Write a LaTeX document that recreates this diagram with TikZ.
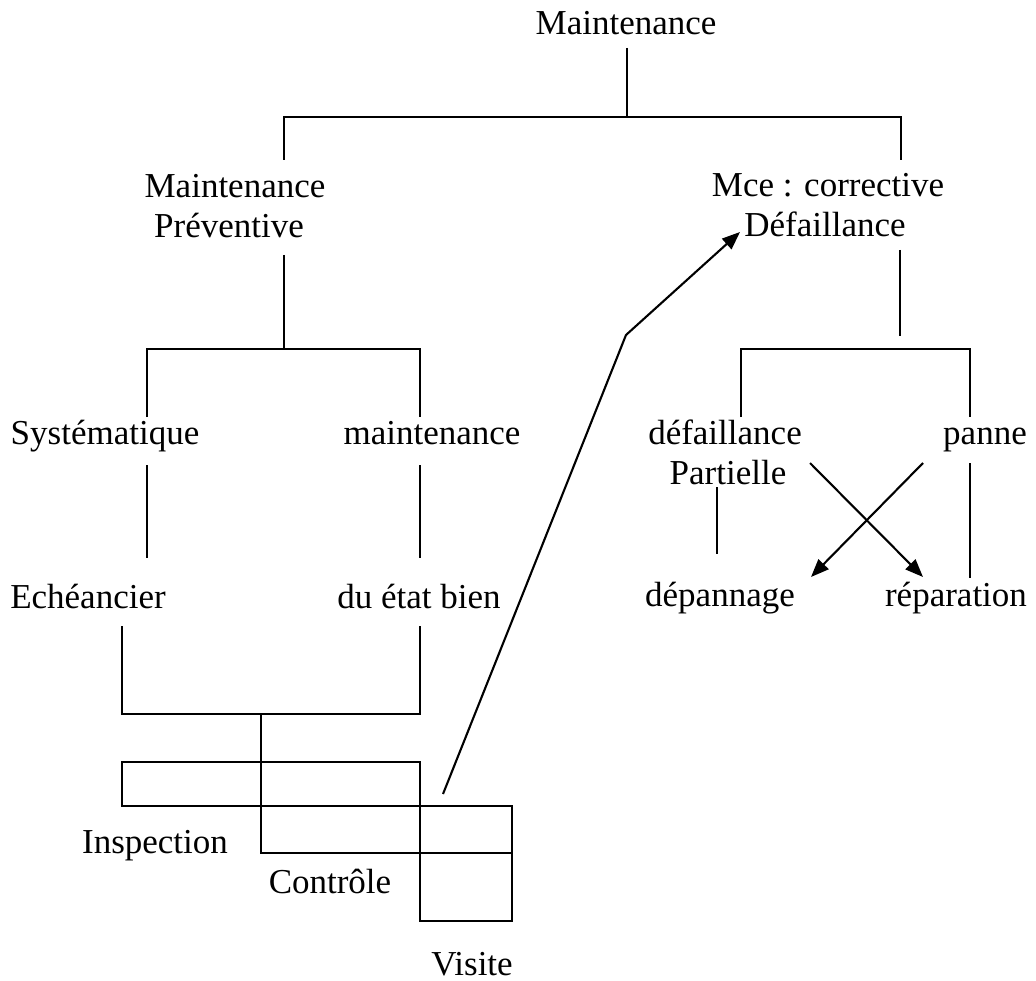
\documentclass[tikz,border=0pt]{standalone}
\usepackage{fontspec}
\setmainfont{Liberation Serif}
\usetikzlibrary{arrows.meta}
\begin{document}
\begin{tikzpicture}[x=1pt,y=-1pt,
  lbl/.style={font=\fontsize{35}{40}\selectfont, inner sep=0pt, anchor=base},
  link/.style={line width=1.8pt, line join=miter},
  arr/.style={link,line width=2.1pt,-{Triangle[length=18pt,width=14pt]}}]
\useasboundingbox (0,0) rectangle (1036,981);

% ---- labels ----
\node[lbl] (top)   at (626,35)  {Maintenance};
\node[lbl] (prev1) at (235,198) {Maintenance};
\node[lbl] (prev2) at (229,238) {Préventive};
\node[lbl] (corr1) at (828,197) {Mce : corrective};
\node[lbl] (corr2) at (825,237) {Défaillance};
\node[lbl] (sys)   at (105,444) {Systématique};
\node[lbl] (cond1) at (432,444) {maintenance};
\node[lbl] (ech)   at (88,608)  {Echéancier};
\node[lbl] (cond2) at (419,608) {du état bien};
\node[lbl] (part1) at (725,444) {défaillance};
\node[lbl] (part2) at (728,484) {Partielle};
\node[lbl] (panne) at (985,444) {panne};
\node[lbl] (dep)   at (720,606) {dépannage};
\node[lbl] (rep)   at (956,606) {réparation};
\node[lbl] (insp)  at (155,853) {Inspection};
\node[lbl] (ctrl)  at (330,893) {Contrôle};
\node[lbl] (vis)   at (472,975) {Visite};

% ---- joints of the tree ----
\coordinate (t0)  at (627,48);
\coordinate (t1)  at (627,117);
\coordinate (tl)  at (284,117);
\coordinate (tr)  at (901,117);
\coordinate (tl1) at (284,160);
\coordinate (tr1) at (901,160);

\coordinate (p0)  at (284,255);
\coordinate (p1)  at (284,349);
\coordinate (pl)  at (147,349);
\coordinate (pr)  at (420,349);
\coordinate (pl1) at (147,417);
\coordinate (pr1) at (420,417);
\coordinate (s0)  at (147,465);
\coordinate (s1)  at (147,558);
\coordinate (c0)  at (420,465);
\coordinate (c1)  at (420,558);
\coordinate (e0)  at (122,626);
\coordinate (el)  at (122,714);
\coordinate (er)  at (420,714);
\coordinate (e1)  at (420,626);
\coordinate (m0)  at (261,714);
\coordinate (m1)  at (261,853);

\coordinate (q0)  at (900,250);
\coordinate (q1)  at (900,336);
\coordinate (ql)  at (741,349);
\coordinate (qr)  at (970,349);
\coordinate (ql1) at (741,417);
\coordinate (qr1) at (970,417);
\coordinate (pa0) at (717,487);
\coordinate (pa1) at (717,554);
\coordinate (pn0) at (970,463);
\coordinate (pn1) at (970,578);

\coordinate (x1s) at (810,463);
\coordinate (x1e) at (923,577);
\coordinate (x2s) at (923,463);
\coordinate (x2e) at (811,577);

\coordinate (v0)  at (443,794);
\coordinate (v1)  at (626,335);
\coordinate (v2)  at (740,232);

% ---- tree connectors ----
\draw[link] (t0) -- (t1);
\draw[link] (tl1) -- (tl) -- (tr) -- (tr1);
\draw[link] (p0) -- (p1);
\draw[link] (pl1) -- (pl) -- (pr) -- (pr1);
\draw[link] (s0) -- (s1);
\draw[link] (c0) -- (c1);
\draw[link] (e0) -- (el) -- (er) -- (e1);
\draw[link] (m0) -- (m1);

\draw[link] (q0) -- (q1);
\draw[link] (ql1) -- (ql) -- (qr) -- (qr1);
\draw[link] (pa0) -- (pa1);
\draw[link] (pn0) -- (pn1);
\draw[arr] (x1s) -- (x1e);
\draw[arr] (x2s) -- (x2e);

% ---- inspection / contrôle / visite blocks ----
\draw[link] (122,762) rectangle (420,806);
\draw[link] (261,806) rectangle (420,853);
\draw[link] (420,806) rectangle (512,921);
\draw[link] (420,853) -- (512,853);

% ---- link from visite back to corrective ----
\draw[arr] (v0) -- (v1) -- (v2);
\end{tikzpicture}
\end{document}
